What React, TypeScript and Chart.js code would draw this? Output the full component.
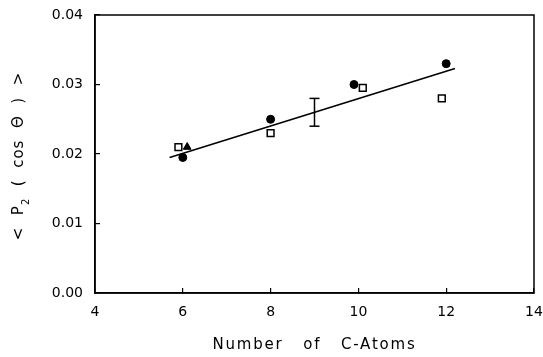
import React, { useEffect, useRef } from "react";
import { Chart, registerables } from "chart.js";

Chart.register(...registerables);

// Measured orientation order parameter versus chain length
const CIRCLE_X = [6.0, 8.0, 9.9, 12.0];
const CIRCLE_Y = [0.0195, 0.025, 0.030, 0.033];

const SQUARE_X = [5.9, 8.0, 10.1, 11.9];
const SQUARE_Y = [0.021, 0.023, 0.0295, 0.028];

const TRIANGLE_X = [6.1];
const TRIANGLE_Y = [0.021];

// Linear fit, drawn between its two end points
const FIT_X = [5.7, 12.2];
const FIT_Y = [0.0195, 0.0323];

// Typical uncertainty bar
const ERR_X = 9;
const ERR_LOW = 0.024;
const ERR_HIGH = 0.028;

const X_TICKS = [4, 6, 8, 10, 12, 14];
const Y_TICKS = [0, 0.01, 0.02, 0.03, 0.04];

const X_TITLE = "Number   of   C-Atoms";
const Y_TITLE_PRE = "<  P";
const Y_TITLE_SUB = "2";
const Y_TITLE_POST = "  (  cos  \u0398  )  >";

const FONT = '"DejaVu Sans", "Liberation Sans", sans-serif';

const pts = (xs: number[], ys: number[]) => xs.map((x, i) => ({ x, y: ys[i] }));

const framePlugin = {
  id: "frameAndTitles",
  beforeDatasetsDraw(chart: any) {
    const { ctx, chartArea } = chart;
    ctx.save();
    ctx.strokeStyle = "#000";
    ctx.lineWidth = 1.5;
    ctx.strokeRect(
      chartArea.left,
      chartArea.top,
      chartArea.right - chartArea.left,
      chartArea.bottom - chartArea.top
    );
    ctx.restore();
  },
  afterDraw(chart: any) {
    const { ctx, chartArea } = chart;
    ctx.save();
    ctx.fillStyle = "#000";
    ctx.textBaseline = "middle";
    ctx.textAlign = "left";
    ctx.font = `15px ${FONT}`;
    (ctx as any).letterSpacing = "1.8px";

    // x-axis title
    const xw = ctx.measureText(X_TITLE).width;
    ctx.fillText(X_TITLE, (chartArea.left + chartArea.right) / 2 - xw / 2, chart.height - 12);

    // y-axis title with subscript, rotated
    (ctx as any).letterSpacing = "1px";
    ctx.translate(19, 156);
    ctx.rotate(-Math.PI / 2);
    ctx.font = `15px ${FONT}`;
    const w1 = ctx.measureText(Y_TITLE_PRE).width;
    const w3 = ctx.measureText(Y_TITLE_POST).width;
    ctx.font = `10px ${FONT}`;
    const w2 = ctx.measureText(Y_TITLE_SUB).width;
    let x0 = -(w1 + w2 + w3) / 2;
    ctx.font = `15px ${FONT}`;
    ctx.fillText(Y_TITLE_PRE, x0, 0);
    x0 += w1;
    ctx.font = `10px ${FONT}`;
    ctx.fillText(Y_TITLE_SUB, x0, 7);
    x0 += w2;
    ctx.font = `15px ${FONT}`;
    ctx.fillText(Y_TITLE_POST, x0, 0);
    ctx.restore();
  },
};

export default function App() {
  const canvasRef = useRef<HTMLCanvasElement | null>(null);

  useEffect(() => {
    const canvas = canvasRef.current;
    if (!canvas) return;

    const chart = new Chart(canvas, {
      type: "scatter",
      data: {
        datasets: [
          {
            label: "fit",
            data: pts(FIT_X, FIT_Y),
            showLine: true,
            borderColor: "#000",
            borderWidth: 1.6,
            pointRadius: 0,
          },
          {
            label: "error",
            data: [
              { x: ERR_X, y: ERR_LOW },
              { x: ERR_X, y: ERR_HIGH },
            ],
            showLine: true,
            borderColor: "#000",
            borderWidth: 1.5,
            pointStyle: "line",
            pointRadius: 5,
            pointBorderWidth: 1.5,
            pointBorderColor: "#000",
          },
          {
            label: "circles",
            data: pts(CIRCLE_X, CIRCLE_Y),
            pointStyle: "circle",
            pointRadius: 4,
            pointBorderWidth: 1,
            pointBackgroundColor: "#000",
            pointBorderColor: "#000",
          },
          {
            label: "squares",
            data: pts(SQUARE_X, SQUARE_Y),
            pointStyle: "rect",
            pointRadius: 4.8,
            pointBorderWidth: 1.5,
            pointBackgroundColor: "#fff",
            pointBorderColor: "#000",
          },
          {
            label: "triangles",
            data: pts(TRIANGLE_X, TRIANGLE_Y),
            pointStyle: "triangle",
            pointRadius: 4.5,
            pointBorderWidth: 1,
            pointBackgroundColor: "#000",
            pointBorderColor: "#000",
          },
        ],
      },
      options: {
        animation: false,
        responsive: false,
        devicePixelRatio: 1,
        layout: { padding: { left: 0, right: 9, top: 15, bottom: 0 } },
        plugins: {
          legend: { display: false },
          tooltip: { enabled: false },
        },
        scales: {
          x: {
            type: "linear",
            min: 4,
            max: 14,
            afterBuildTicks: (s: any) => {
              s.ticks = X_TICKS.map((v) => ({ value: v }));
            },
            afterFit: (s: any) => {
              s.height = 64;
              s.paddingLeft = 0;
              s.paddingRight = 0;
            },
            border: { display: true, color: "#000", width: 1.5 },
            grid: {
              display: true,
              drawOnChartArea: false,
              drawTicks: true,
              tickLength: -5,
              color: "#000",
              lineWidth: 1.2,
            },
            ticks: {
              autoSkip: false,
              maxRotation: 0,
              padding: 16,
              color: "#000",
              font: { family: FONT, size: 14 },
              callback: (v: any) => String(v),
            },
          },
          y: {
            type: "linear",
            min: 0,
            max: 0.04,
            afterBuildTicks: (s: any) => {
              s.ticks = Y_TICKS.map((v) => ({ value: v }));
            },
            afterFit: (s: any) => {
              s.width = 95;
              s.paddingTop = 0;
              s.paddingBottom = 0;
            },
            border: { display: true, color: "#000", width: 1.5 },
            grid: {
              display: true,
              drawOnChartArea: false,
              drawTicks: true,
              tickLength: -5,
              color: "#000",
              lineWidth: 1.2,
            },
            ticks: {
              autoSkip: false,
              padding: 17,
              color: "#000",
              font: { family: FONT, size: 14 },
              callback: (v: any) => Number(v).toFixed(2),
            },
          },
        },
      },
      plugins: [framePlugin],
    });

    return () => chart.destroy();
  }, []);

  return (
    <div style={{ position: "fixed", left: 0, top: 0, width: 543, height: 357, background: "#fff" }}>
      <canvas ref={canvasRef} width={543} height={357} style={{ display: "block" }} />
    </div>
  );
}
